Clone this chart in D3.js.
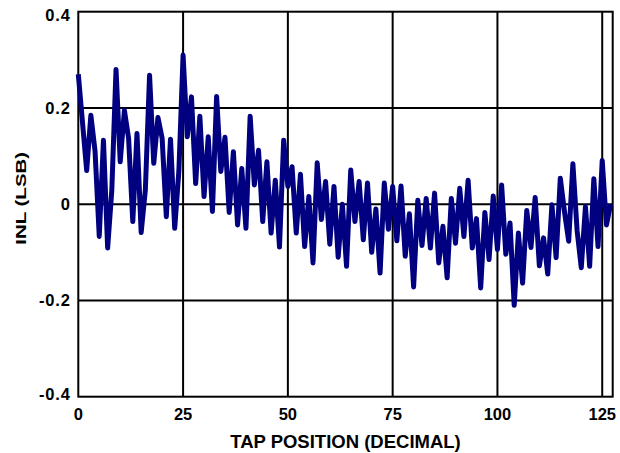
<!DOCTYPE html>
<html>
<head>
<meta charset="utf-8">
<script src="https://cdn.jsdelivr.net/npm/d3@7"></script>
<style>
  html, body { margin: 0; padding: 0; background: #fff; }
  svg { display: block; }
  text { font-family: "Liberation Sans", Arial, Helvetica, sans-serif; font-weight: bold; fill: #000; }
</style>
</head>
<body>
<svg id="chart" width="620" height="453"></svg>
<script>
// INL (LSB) at each tap position 0..127
const inl = [
  0.27, 0.17, 0.07, 0.185, 0.11, -0.067, 0.133, -0.091, 0.03, 0.28,
  0.088, 0.195, 0.137, -0.036, 0.147, -0.059, 0.03, 0.268, 0.085, 0.18,
  0.137, -0.026, 0.135, -0.05, 0.07, 0.31, 0.14, 0.223, 0.043, 0.183,
  0.016, 0.14, -0.015, 0.224, 0.068, 0.139, -0.017, 0.109, -0.043, 0.074,
  -0.05, 0.183, 0.04, 0.112, -0.036, 0.088, -0.06, 0.05, -0.089, 0.133,
  0.037, 0.078, -0.06, 0.062, -0.088, 0.016, -0.122, 0.086, -0.032, 0.047,
  -0.083, 0.037, -0.11, 0.0, -0.129, 0.071, -0.036, 0.047, -0.074, 0.044,
  -0.10, -0.01, -0.143, 0.044, -0.052, 0.037, -0.076, 0.038, -0.108, -0.02,
  -0.172, 0.008, -0.086, 0.012, -0.091, 0.023, -0.122, -0.046, -0.153, 0.012,
  -0.081, 0.033, -0.067, 0.05, -0.091, -0.03, -0.174, -0.017, -0.115, 0.017,
  -0.094, 0.04, -0.104, -0.039, -0.21, -0.06, -0.164, -0.013, -0.09, 0.014,
  -0.128, -0.07, -0.145, -0.001, -0.111, 0.054, -0.016, -0.077, 0.084, -0.054,
  -0.132, -0.005, -0.129, 0.053, -0.088, 0.091, -0.043, 0.0
];
const xTicks = [0, 25, 50, 75, 100, 125];
const yTicks = [-0.4, -0.2, 0, 0.2, 0.4];
const yTickLabels = ["-0.4", "-0.2", "0", "0.2", "0.4"];
const xTitle = "TAP POSITION (DECIMAL)";
const yTitle = "INL (LSB)";

const svg = d3.select("#chart");
const pL = 78.3, pR = 612.7, pT = 11.7, pB = 396.7;

const x = d3.scaleLinear().domain([0, 127.5]).range([pL, pR]);
const y = d3.scaleLinear().domain([-0.4, 0.4]).range([pB, pT]);

svg.append("rect").attr("width", 620).attr("height", 453).attr("fill", "#fff");

// grid
svg.append("g").selectAll("line")
  .data(xTicks.filter(t => t > 0))
  .join("line")
  .attr("x1", d => x(d)).attr("x2", d => x(d))
  .attr("y1", pT).attr("y2", pB)
  .attr("stroke", "#000").attr("stroke-width", 2);

svg.append("g").selectAll("line")
  .data(yTicks.filter(t => t > -0.4 && t < 0.4))
  .join("line")
  .attr("x1", pL).attr("x2", pR)
  .attr("y1", d => y(d)).attr("y2", d => y(d))
  .attr("stroke", "#000").attr("stroke-width", 2);

// frame
svg.append("rect")
  .attr("x", pL).attr("y", pT)
  .attr("width", pR - pL).attr("height", pB - pT)
  .attr("fill", "none").attr("stroke", "#000").attr("stroke-width", 2);

// data line
const line = d3.line().x((d, i) => x(i)).y(d => y(d));
svg.append("path")
  .datum(inl)
  .attr("d", line)
  .attr("fill", "none")
  .attr("stroke", "#000080")
  .attr("stroke-width", 5)
  .attr("stroke-linejoin", "round")
  .attr("stroke-linecap", "butt");

// x tick labels
svg.append("g").selectAll("text")
  .data(xTicks)
  .join("text")
  .attr("x", d => x(d))
  .attr("y", 420)
  .attr("text-anchor", "middle")
  .attr("font-size", 16.5)
  .text(d => d);

// y tick labels
svg.append("g").selectAll("text")
  .data(yTicks)
  .join("text")
  .attr("x", 70.7)
  .attr("y", d => Math.min(Math.max(y(d) + 5.8, pT + 9.5), pB + 3.3))
  .attr("text-anchor", "end")
  .attr("font-size", 16.5)
  .attr("letter-spacing", 0.8)
  .text((d, i) => yTickLabels[i]);

// axis titles
svg.append("text")
  .attr("x", (pL + pR) / 2)
  .attr("y", 448)
  .attr("text-anchor", "middle")
  .attr("font-size", 18.5)
  .text(xTitle);

svg.append("text")
  .attr("transform", "translate(25.5,198.3) rotate(-90)")
  .attr("text-anchor", "middle")
  .attr("font-size", 15.5)
  .attr("textLength", 93)
  .attr("lengthAdjust", "spacingAndGlyphs")
  .text(yTitle);
</script>
</body>
</html>
